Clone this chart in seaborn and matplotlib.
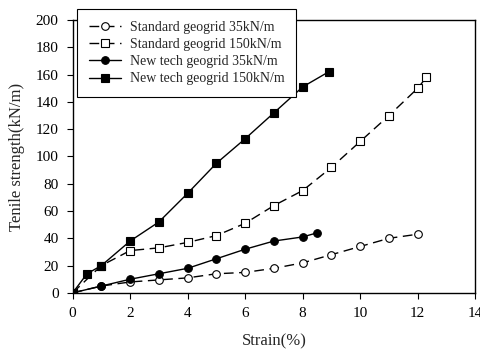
import pandas as pd
import numpy as np
import matplotlib.pyplot as plt
import seaborn as sns

# --- データ ---
std35_x = [0, 1, 2, 3, 4, 5, 6, 7, 8, 9, 10, 11, 12]
std35_y = [0, 5, 8, 9.5, 11, 14, 15, 18, 22, 28, 34, 40, 43]

std150_x = [0, 1, 2, 3, 4, 5, 6, 7, 8, 9, 10, 11, 12, 12.3]
std150_y = [0, 20, 31, 33, 37, 42, 51, 64, 75, 92, 111, 130, 150, 158]

new35_x = [0, 1, 2, 3, 4, 5, 6, 7, 8, 8.5]
new35_y = [0, 5, 10, 14, 18, 25, 32, 38, 41, 44]

new150_x = [0, 0.5, 1, 2, 3, 4, 5, 6, 7, 8, 8.9]
new150_y = [0, 14, 20, 38, 52, 73, 95, 113, 132, 151, 162]

labels = ['Standard geogrid 35kN/m', 'Standard geogrid 150kN/m',
          'New tech geogrid 35kN/m', 'New tech geogrid 150kN/m']

sns.set_style('ticks')
plt.rcParams['font.family'] = ['Liberation Serif', 'DejaVu Serif']

fig = plt.figure(figsize=(4.81, 3.52), dpi=100)
ax = fig.add_axes([0.151, 0.168, 0.837, 0.775])

series = [
    (std35_x, std35_y, 'o', 'white', (0, (7, 4))),
    (std150_x, std150_y, 's', 'white', (0, (7, 4))),
    (new35_x, new35_y, 'o', 'black', '-'),
    (new150_x, new150_y, 's', 'black', '-'),
]
for (xs, ys, mk, fc, ls), lab in zip(series, labels):
    df = pd.DataFrame({'x': xs, 'y': ys})
    sns.lineplot(data=df, x='x', y='y', ax=ax, color='black', linewidth=1,
                 linestyle=ls, marker=mk, markersize=5.5, markerfacecolor=fc,
                 markeredgecolor='black', markeredgewidth=0.8, label=lab)

ax.set_xlim(0, 14)
ax.set_ylim(0, 200)
ax.set_xticks(range(0, 15, 2))
ax.set_yticks(range(0, 201, 20))
ax.tick_params(labelsize=11, length=4, width=0.8, pad=6, color='black', labelcolor='black')
ax.set_xlabel('Strain(%)', fontsize=12, labelpad=10)
ax.set_ylabel('Tenile strength(kN/m)', fontsize=12, labelpad=8)
for sp in ax.spines.values():
    sp.set_visible(True)
    sp.set_color('black')
    sp.set_linewidth(1)

leg = ax.legend(loc='upper left', bbox_to_anchor=(0.16, 0.974), bbox_transform=fig.transFigure,
                fontsize=10, frameon=True, fancybox=False, edgecolor='black',
                framealpha=1, handlelength=2.3, handletextpad=0.65, borderpad=0.85,
                labelspacing=0.3, borderaxespad=0)
leg.get_frame().set_linewidth(0.8)

fig.savefig('out.png', dpi=100)
